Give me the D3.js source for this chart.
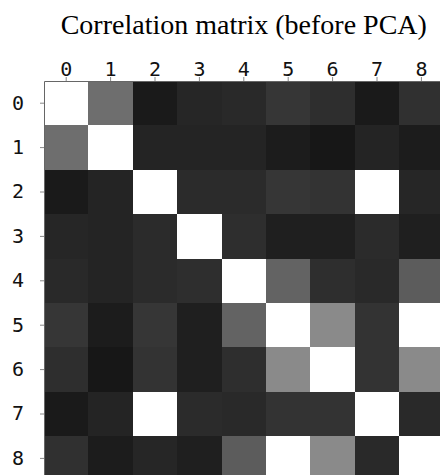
<!DOCTYPE html>
<html>
<head>
<meta charset="utf-8">
<script src="https://cdn.jsdelivr.net/npm/d3@7"></script>
<style>
  html, body { margin: 0; padding: 0; background: #fff; }
  svg { display: block; }
</style>
</head>
<body>
<svg id="chart" width="440" height="475"></svg>
<script>
const title = "Correlation matrix (before PCA)";
const labels = ["0", "1", "2", "3", "4", "5", "6", "7", "8"];
const row0 = [1.00, 0.43, 0.10, 0.15, 0.16, 0.21, 0.18, 0.10, 0.19];
const row1 = [0.43, 1.00, 0.14, 0.14, 0.14, 0.11, 0.09, 0.14, 0.11];
const row2 = [0.10, 0.14, 1.00, 0.17, 0.17, 0.21, 0.20, 1.00, 0.15];
const row3 = [0.15, 0.14, 0.17, 1.00, 0.18, 0.12, 0.12, 0.17, 0.12];
const row4 = [0.16, 0.14, 0.17, 0.18, 1.00, 0.39, 0.18, 0.16, 0.36];
const row5 = [0.21, 0.11, 0.21, 0.12, 0.39, 1.00, 0.54, 0.20, 1.00];
const row6 = [0.18, 0.09, 0.20, 0.12, 0.18, 0.54, 1.00, 0.20, 0.54];
const row7 = [0.10, 0.14, 1.00, 0.17, 0.16, 0.20, 0.20, 1.00, 0.16];
const row8 = [0.19, 0.11, 0.15, 0.12, 0.36, 1.00, 0.54, 0.16, 1.00];
const matrix = [row0, row1, row2, row3, row4, row5, row6, row7, row8];

const cells = [];
matrix.forEach((row, i) => row.forEach((v, j) => cells.push({ r: labels[i], c: labels[j], v })));

const svg = d3.select("#chart");
const mLeft = 44, mTop = 81, cell = 44.4;

const x = d3.scaleBand().domain(labels).range([mLeft, mLeft + cell * labels.length]).padding(0);
const y = d3.scaleBand().domain(labels).range([mTop, mTop + cell * labels.length]).padding(0);
const color = d3.scaleLinear().domain([0, 1]).range(["#000000", "#ffffff"]);

svg.append("g")
  .selectAll("rect")
  .data(cells)
  .join("rect")
  .attr("x", d => x(d.c))
  .attr("y", d => y(d.r))
  .attr("width", x.bandwidth() + 0.5)
  .attr("height", y.bandwidth() + 0.5)
  .attr("fill", d => color(d.v))
  .attr("shape-rendering", "crispEdges");

const xAxis = svg.append("g")
  .attr("transform", `translate(0,${mTop})`)
  .call(d3.axisTop(x).tickSize(4).tickSizeOuter(0).tickPadding(1));
const yAxis = svg.append("g")
  .attr("transform", `translate(${mLeft},0)`)
  .call(d3.axisLeft(y).tickSize(4).tickSizeOuter(0).tickPadding(16));

[xAxis, yAxis].forEach(g => {
  g.selectAll("path.domain").attr("stroke", "#666").attr("stroke-width", 1);
  g.selectAll(".tick line").attr("stroke", "#888");
  g.selectAll(".tick text")
    .attr("fill", "#111")
    .style("font-family", "'DejaVu Sans Mono', monospace")
    .style("font-size", "20px");
});

svg.append("text")
  .attr("x", mLeft + cell * labels.length / 2)
  .attr("y", 34)
  .attr("text-anchor", "middle")
  .style("font-family", "'Liberation Serif', 'Times New Roman', serif")
  .style("font-size", "28px")
  .attr("fill", "#000")
  .text(title);
</script>
</body>
</html>
